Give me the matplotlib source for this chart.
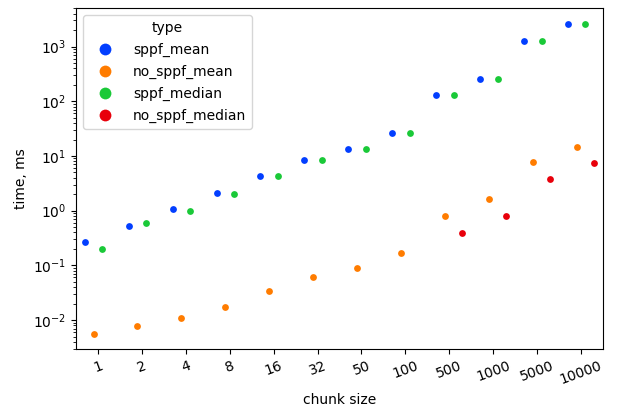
import numpy as np
import matplotlib
matplotlib.use("Agg")
import matplotlib.pyplot as plt
from matplotlib.lines import Line2D

categories = ['1', '2', '4', '8', '16', '32', '50', '100', '500', '1000', '5000', '10000']
hue_levels = ['sppf_mean', 'no_sppf_mean', 'sppf_median', 'no_sppf_median']

sppf_mean = [0.267, 0.531, 1.06, 2.13, 4.26, 8.45, 13.4, 26.7, 129, 260, 1288, 2602]
no_sppf_mean = [0.00561, 0.00776, 0.0107, 0.0175, 0.0335, 0.0604, 0.0893, 0.170, 0.80, 1.64, 7.78, 14.8]
sppf_median = [0.196, 0.596, 0.985, 2.02, 4.26, 8.45, 13.4, 26.7, 129, 260, 1290, 2610]
no_sppf_median = [np.nan, np.nan, np.nan, np.nan, np.nan, np.nan, np.nan, np.nan, 0.395, 0.80, 3.85, 7.55]

colors = ['#023eff', '#ff7c00', '#1ac938', '#e8000b']

series = [sppf_mean, no_sppf_mean, sppf_median, no_sppf_median]

fig = plt.figure(figsize=(6.2, 4.12), dpi=100)
ax = fig.add_axes([0.1226, 0.1522, 0.85, 0.8277])

x = np.arange(len(categories))
n = len(hue_levels)
width = 0.8
step = width / n
for i, (vals, c) in enumerate(zip(series, colors)):
    off = -width / 2 + step / 2 + i * step
    ax.scatter(x + off, vals, s=24, color=c, linewidths=0, zorder=3)

ax.set_yscale('log')
ax.set_xlim(-0.5, len(categories) - 0.5)
ax.set_xticks(x)
ax.set_xticklabels(categories, rotation=20)
ax.set_xlabel('chunk size')
ax.set_ylabel('time, ms')

handles = [Line2D([], [], linestyle='none', marker='o', markersize=8.5,
                  markerfacecolor=c, markeredgewidth=0) for c in colors]
ax.legend(handles, hue_levels, title='type', loc='upper left',
          handlelength=2.4, labelspacing=0.57)

fig.savefig('out.png', dpi=100)
